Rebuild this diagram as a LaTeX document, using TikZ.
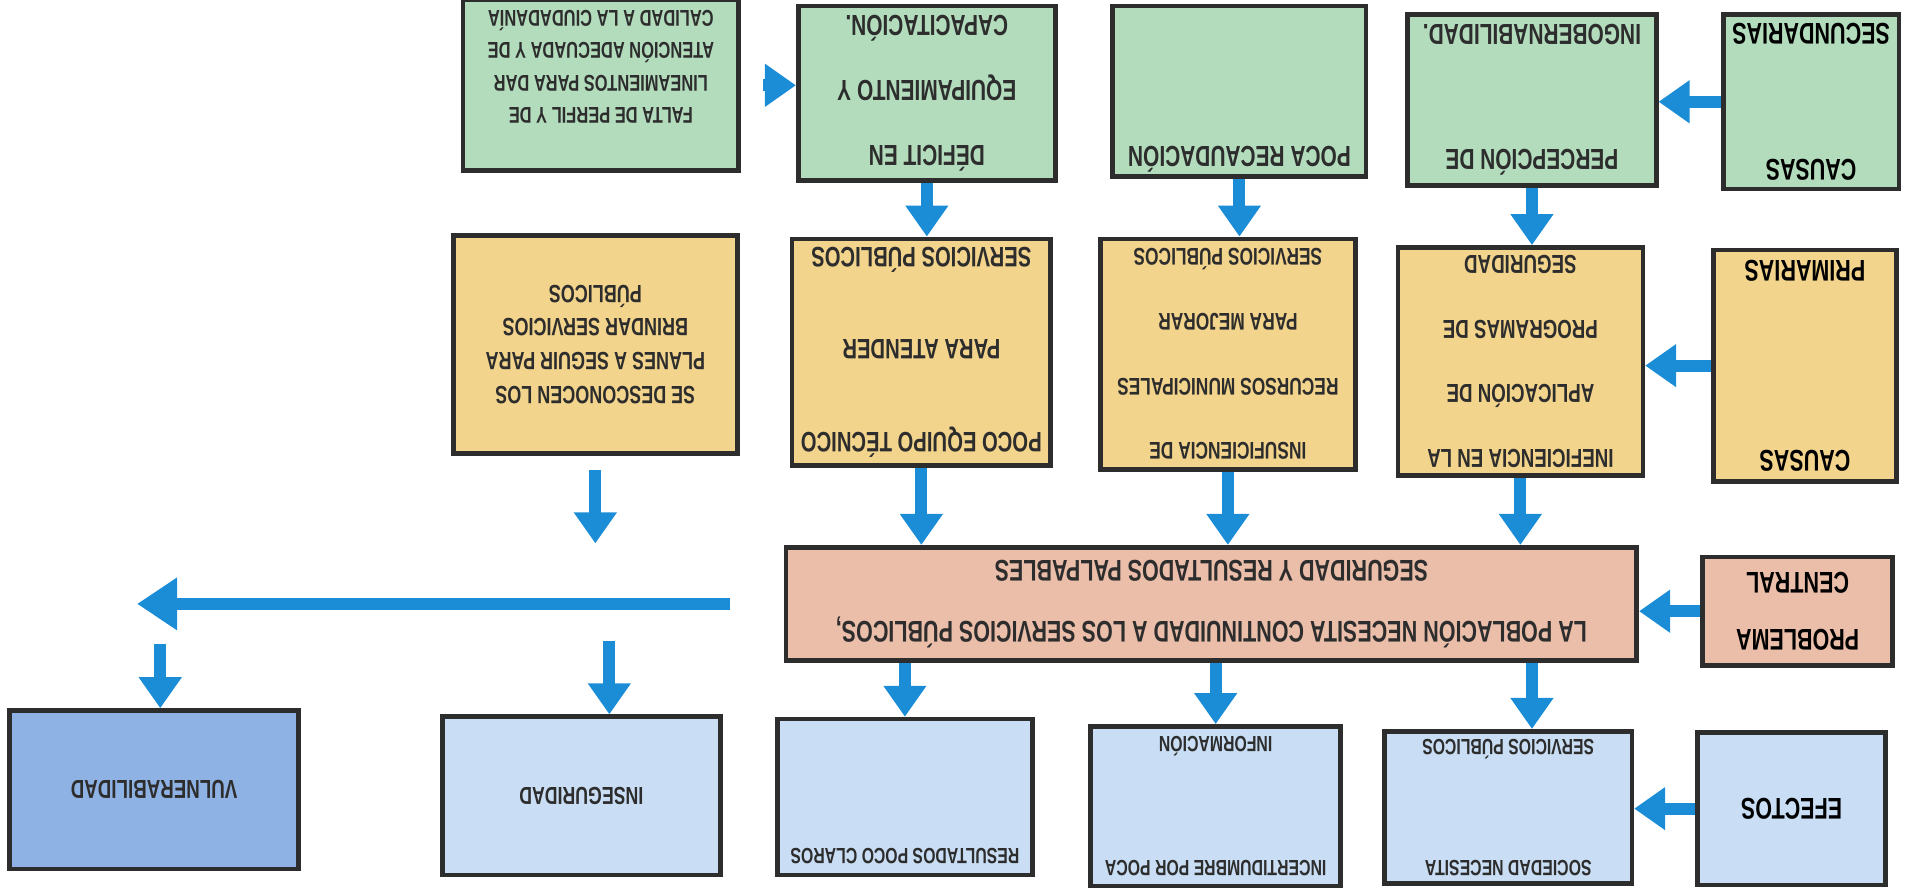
\documentclass[tikz,border=0pt]{standalone}
\usepackage{fontspec}
\setmainfont{Liberation Sans}[FakeStretch=0.72]
\usepackage{tikz}
\usetikzlibrary{arrows.meta, calc, positioning}
\usepackage{xcolor}
\definecolor{RichBlack}{RGB}{45,45,45}
\definecolor{LiteGreen}{RGB}{178,220,188}
\definecolor{LiteYellow}{RGB}{243,212,140}
\definecolor{LiteSalmon}{RGB}{235,190,170}
\definecolor{LiteBlue}{RGB}{201,222,244}
\definecolor{MidBlue}{RGB}{143,178,228}
\definecolor{ArrowBlue}{RGB}{27,141,214}
\newcommand{\unitpx}{0.024375cm}
\newcommand{\treefont}[2]{\fontsize{#1}{#2}\selectfont\bfseries}
\tikzset{%
  tree_block/.style={%
    rectangle,%
    draw=RichBlack,%
    line width=2.6pt,%
    inner sep=0pt,%
    text=RichBlack,%
    align=center%
  },
  dims/.style 2 args={%
    minimum width=#1*\unitpx,%
    minimum height=#2*\unitpx%
  },
  row_title/.style={text=black},
  green_block/.style={tree_block, fill=LiteGreen},
  yellow_block/.style={tree_block, fill=LiteYellow},
  red_block/.style={tree_block, fill=LiteSalmon},
  blue_block/.style={tree_block, fill=LiteBlue},
  dark_blue_block/.style={tree_block, fill=MidBlue},
  fat_path/.style={%
    color=ArrowBlue,%
    line width=0.24cm%
  },
  arrow/.style={-{Triangle[length=0.62cm, width=0.82cm]}},
  long_arrow/.style={-{Triangle[length=0.8cm, width=1.0cm]}},
}

\begin{document}
\begin{tikzpicture}[x=\unitpx, y=\unitpx, rotate=180, transform shape]

    \useasboundingbox (0,0) rectangle (1568,732);

    % causas secundarias
    \node [green_block, row_title, dims={144}{143}, font=\treefont{17}{77.7}]
      (secundarias) at (82,83.5) {CAUSAS\\SECUNDARIAS};
    \node [green_block, dims={204}{140}, font=\treefont{16.5}{71.4}]
      (percepcion) at (311,82) {PERCEPCIÓN DE\\INGOBERNABILIDAD.};
    \node [green_block, dims={208}{140}, font=\treefont{16.5}{19}]
      (recaudacion) at (551,75) {POCA RECAUDACIÓN\rule[-77pt]{0pt}{0pt}};
    \node [green_block, dims={211}{143}, font=\treefont{16.5}{36.8}]
      (deficit) at (807.5,76.5) {DÉFICIT EN\\EQUIPAMIENTO Y\\CAPACITACIÓN.};
    \node [green_block, dims={226}{140}, font=\treefont{13}{18.5}]
      (falta) at (1075,70) {%
        \rule{0pt}{30pt}FALTA DE PERFIL Y DE\\LINEAMIENTOS PARA DAR\\%
        ATENCIÓN ADECUADA Y DE\\CALIDAD A LA CIUDADANÍA%
      };

    % causas primarias
    \node [yellow_block, row_title, dims={150}{190}, font=\treefont{17}{108}]
      (primarias) at (87,300) {CAUSAS\\PRIMARIAS};
    \node [yellow_block, dims={201}{187}, font=\treefont{14.8}{36.8}]
      (ineficiencia) at (320.5,296.5) {%
        INEFICIENCIA EN LA\\APLICACIÓN DE\\PROGRAMAS DE\\SEGURIDAD%
      };
    \node [yellow_block, dims={209}{189}, font=\treefont{13.7}{36.7}]
      (insuficiencia) at (560.5,290.5) {%
        INSUFICIENCIA DE\\RECURSOS MUNICIPALES\\PARA MEJORAR\\SERVICIOS PÚBLICOS%
      };
    \node [yellow_block, dims={212}{186}, font=\treefont{16}{52.7}]
      (equipo) at (812,289) {%
        POCO EQUIPO TÉCNICO\\PARA ATENDER\\SERVICIOS PÚBLICOS%
      };
    \node [yellow_block, dims={233}{179}, font=\treefont{14.2}{19.2}]
      (desconocen) at (1079.5,282.5) {%
        SE DESCONOCEN LOS\\PLANES A SEGUIR PARA\\BRINDAR SERVICIOS\\PÚBLICOS%
      };

    % problema central
    \node [red_block, row_title, dims={156}{89}, font=\treefont{17}{32.6}]
      (problema) at (93,501.5) {PROBLEMA\\CENTRAL};
    \node [red_block, dims={698}{93}, font=\treefont{17}{34.7}]
      (central) at (574,495.5) {%
        LA POBLACIÓN NECESITA CONTINUIDAD A LOS SERVICIOS PÚBLICOS,\\%
        SEGURIDAD Y RESULTADOS PALPABLES%
      };

    % efectos
    \node [blue_block, row_title, dims={154}{125}, font=\treefont{17}{20}]
      (efectos) at (98,663.5) {EFECTOS};
    \node [blue_block, dims={203}{125}, font=\treefont{12.5}{68.7}]
      (sociedad) at (330.5,662.5) {SOCIEDAD NECESITA\\SERVICIOS PÚBLICOS};
    \node [blue_block, dims={205}{131}, font=\treefont{12.5}{70.7}]
      (incertidumbre) at (570.5,661.5) {INCERTIDUMBRE POR POCA\\INFORMACIÓN};
    \node [blue_block, dims={209}{128}, font=\treefont{12.5}{15}]
      (resultados) at (825.5,654) {RESULTADOS POCO CLAROS\rule[-67pt]{0pt}{0pt}};
    \node [blue_block, dims={228}{130}, font=\treefont{14}{17}]
      (inseguridad) at (1091,653) {INSEGURIDAD};
    \node [dark_blue_block, dims={237}{130}, font=\treefont{14.8}{18}]
      (vulnerabilidad) at (1441.5,648) {VULNERABILIDAD};

    % row titles point into their rows
    \draw [arrow, fat_path]
      (secundarias.east) -- (percepcion.west |- secundarias.east);
    \draw [arrow, fat_path]
      (primarias.east) -- (ineficiencia.west |- primarias.east);
    \draw [arrow, fat_path]
      (problema.east) -- (central.west |- problema.east);
    \draw [arrow, fat_path]
      (efectos.east) -- (sociedad.west |- efectos.east);
    \draw [arrow, fat_path]
      ($(falta.west)+(-18,0)$) -- (deficit.east |- falta.west);

    % secundarias -> primarias
    \draw [arrow, fat_path]
      (deficit.north) -- (deficit.north |- equipo.south);
    \draw [arrow, fat_path]
      (recaudacion.north) -- (recaudacion.north |- insuficiencia.south);
    \draw [arrow, fat_path]
      (percepcion.north) -- (percepcion.north |- ineficiencia.south);

    % primarias -> problema central
    \draw [arrow, fat_path]
      (equipo.north) -- (equipo.north |- central.south);
    \draw [arrow, fat_path]
      (insuficiencia.north) -- (insuficiencia.north |- central.south);
    \draw [arrow, fat_path]
      (ineficiencia.north) -- (ineficiencia.north |- central.south);
    \draw [arrow, fat_path]
      ($(desconocen.north)+(0,12)$) -- ++(0,60);

    % problema central -> efectos
    \draw [arrow, fat_path]
      (resultados.south |- central.north) -- (resultados.south);
    \draw [arrow, fat_path]
      (incertidumbre.south |- central.north) -- (incertidumbre.south);
    \draw [arrow, fat_path]
      (percepcion.north |- central.north) -- (percepcion.north |- sociedad.south);
    \draw [long_arrow, fat_path]
      ($(central.east)+(44,0)$)
      --
      ($(vulnerabilidad.south |- central.east)+(14,0)$);
    \draw [arrow, fat_path]
      ($(inseguridad.south)+(-23,-60)$) -- ($(inseguridad.south)+(-23,0)$);
    \draw [arrow, fat_path]
      ($(vulnerabilidad.south)+(-5,-53)$) -- ($(vulnerabilidad.south)+(-5,0)$);
  \end{tikzpicture}
\end{document}
